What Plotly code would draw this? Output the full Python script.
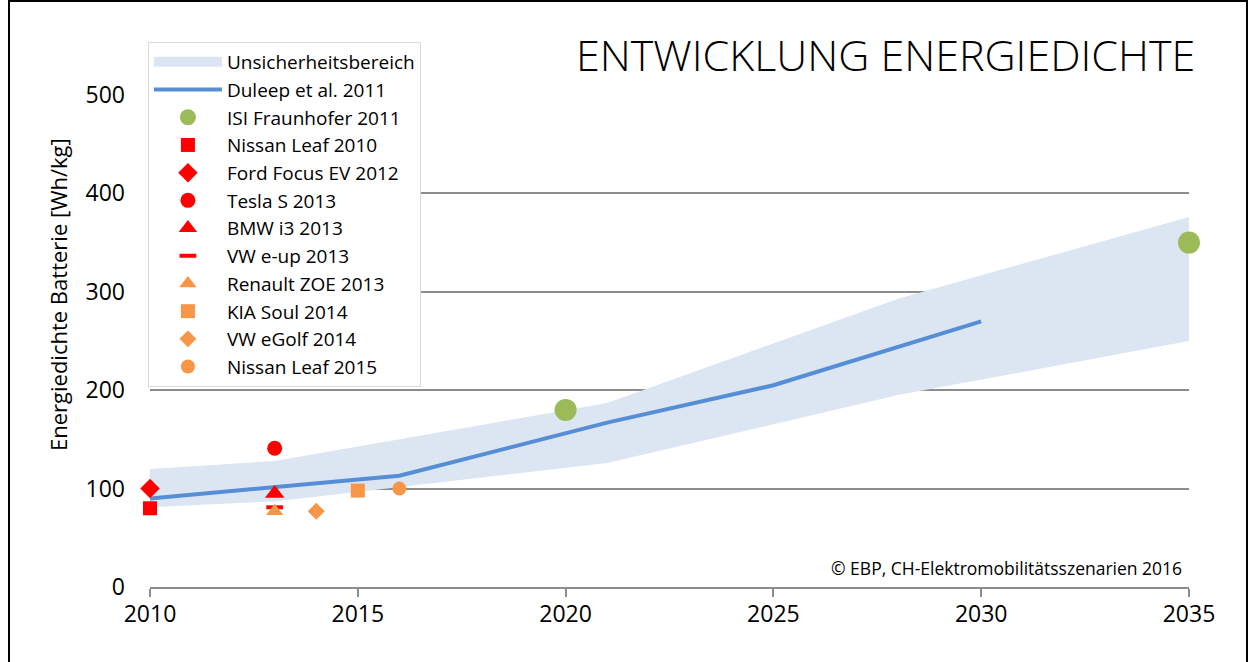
import plotly.graph_objects as go

# ---- data ----
band_years = [2010, 2013, 2021, 2028, 2035]
band_upper = [120, 128, 187, 293, 376]
band_lower = [81, 87, 126, 195, 250]

duleep_years = [2010, 2016, 2021, 2025, 2030]
duleep_vals = [90, 113, 167, 205, 270]

isi_years = [2020, 2035]
isi_vals = [180, 350]

point_names = ["Nissan Leaf 2010", "Ford Focus EV 2012", "Tesla S 2013", "BMW i3 2013",
               "VW e-up 2013", "Renault ZOE 2013", "KIA Soul 2014", "VW eGolf 2014",
               "Nissan Leaf 2015"]
point_years = [2010, 2010, 2013, 2013, 2013, 2013, 2015, 2014, 2016]
point_values = [80, 100, 141, 95, 81, 77, 98, 77, 100]
point_symbols = ["square", "diamond", "circle", "triangle-up", "line-ew",
                 "triangle-up", "square", "diamond", "circle"]
point_colors = ["#FF0000"] * 5 + ["#F79646"] * 4
point_sizes = [14, 15, 15, 17, 12, 15, 14, 13, 14]

x_ticks = [2010, 2015, 2020, 2025, 2030, 2035]
y_ticks = [0, 100, 200, 300, 400, 500]

FONT = "Open Sans"
fig = go.Figure()

fig.add_trace(go.Scatter(x=band_years, y=band_lower, mode="lines",
                         line=dict(width=0, color="#DCE6F2"), showlegend=False,
                         hoverinfo="skip"))
fig.add_trace(go.Scatter(x=band_years, y=band_upper, mode="lines", fill="tonexty",
                         fillcolor="#DCE6F2", line=dict(width=0, color="#DCE6F2"),
                         showlegend=False, hoverinfo="skip"))
# legend entry for band (legend-only)
fig.add_trace(go.Scatter(x=[None], y=[None], mode="lines",
                         line=dict(width=13, color="#DCE6F2"),
                         name="Unsicherheitsbereich", legendgroup="g0"))
fig.add_trace(go.Scatter(x=duleep_years, y=duleep_vals, mode="lines",
                         line=dict(width=4, color="#558ED5"),
                         name="Duleep et al. 2011", legendgroup="g1"))
fig.add_trace(go.Scatter(x=isi_years, y=isi_vals, mode="markers",
                         marker=dict(symbol="circle", size=22, color="#9BBB59"),
                         name="ISI Fraunhofer 2011", legendgroup="g2", cliponaxis=False))

for i in range(len(point_names)):
    sym, col, sz = point_symbols[i], point_colors[i], point_sizes[i]
    if sym == "line-ew":
        mk = dict(symbol=sym, size=sz, color=col, line=dict(color=col, width=4))
    else:
        mk = dict(symbol=sym, size=sz, color=col, line=dict(width=0))
    fig.add_trace(go.Scatter(x=[point_years[i]], y=[point_values[i]], mode="markers",
                             marker=mk, name=point_names[i], legendgroup=f"p{i}",
                             cliponaxis=False))

fig.update_layout(
    width=1248, height=662,
    margin=dict(l=150, r=59, t=95, b=75),
    paper_bgcolor="white", plot_bgcolor="white",
    font=dict(family=FONT, color="#000000"),
    legend=dict(x=-0.002, y=(587 - 42) / 492, xanchor="left", yanchor="top",
                bgcolor="white", bordercolor="#D9D9D9", borderwidth=1,
                font=dict(family=FONT, size=19, color="#000000"),
                tracegroupgap=0, itemwidth=68, traceorder="grouped",
                maxheight=600),
    xaxis=dict(range=[2010, 2035], tickvals=x_ticks, ticktext=[str(v) for v in x_ticks],
               showgrid=False, zeroline=False, showline=True, linecolor="#8C8C8C",
               linewidth=1.5, ticks="outside", ticklen=8, tickcolor="#8C8C8C",
               tickwidth=1.5, tickfont=dict(size=23, color="#000000"),
               ticklabelstandoff=-2),
    yaxis=dict(range=[0, 500], tickvals=y_ticks, showgrid=True, gridcolor="#8C8C8C",
               gridwidth=1.5, zeroline=False, showline=False, ticks="",
               tickfont=dict(size=23, color="#000000"), ticklabelstandoff=24),
    showlegend=True,
)

fig.add_annotation(text="Energiedichte Batterie [Wh/kg]", xref="paper", yref="paper",
                   x=(58 - 150) / 1039, y=(587 - 295) / 492, textangle=-90,
                   xanchor="center", yanchor="middle", showarrow=False,
                   font=dict(family=FONT, size=22, color="#000000"))
fig.add_annotation(text="ENTWICKLUNG ENERGIEDICHTE", xref="paper", yref="paper",
                   x=(1197 - 150) / 1039, y=(587 - 54) / 492, xanchor="right", yanchor="middle",
                   showarrow=False, font=dict(family=FONT, size=43, color="#000000", weight=300))
fig.add_annotation(text="© EBP, CH-Elektromobilitätsszenarien 2016", xref="paper", yref="paper",
                   x=(1184 - 150) / 1039, y=(587 - 568) / 492, xanchor="right", yanchor="middle",
                   showarrow=False, font=dict(family=FONT, size=17.5, color="#000000"))

fig.add_shape(type="rect", xref="paper", yref="paper",
              x0=(9 - 150) / 1039, x1=(1247 - 150) / 1039, y0=-0.2, y1=(587 - 1) / 492,
              line=dict(color="black", width=2), fillcolor="rgba(0,0,0,0)", layer="above")

fig.write_html("out.html", config={"displayModeBar": False},
               post_script="document.body.style.margin='0';")
